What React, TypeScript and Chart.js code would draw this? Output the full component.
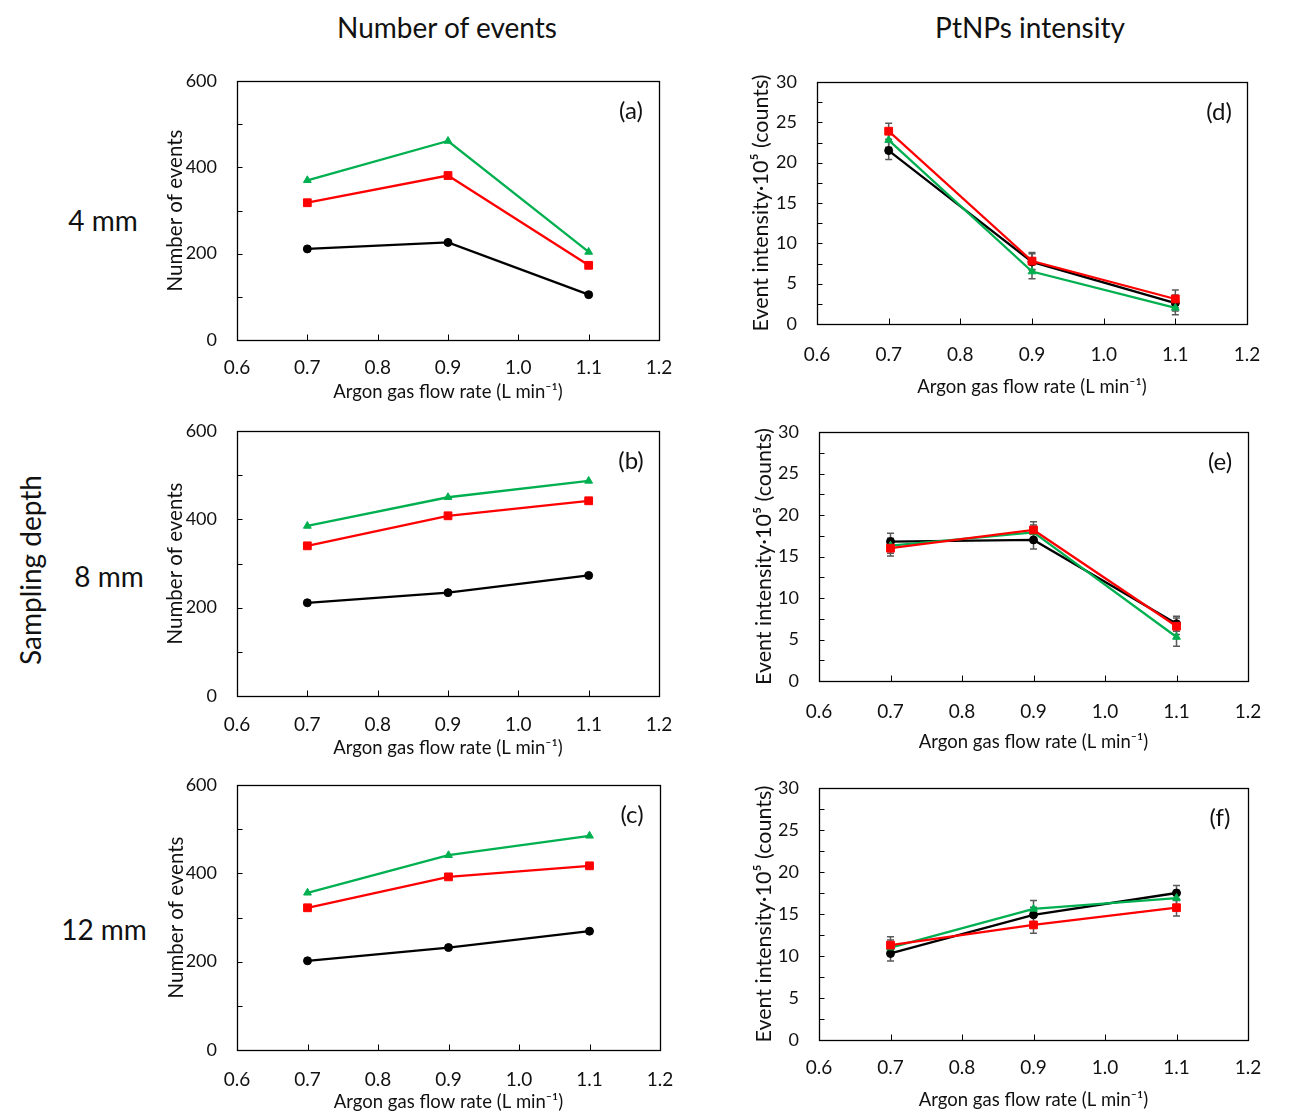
import React, { useEffect, useRef } from "react";
import { Chart, registerables } from "chart.js";

Chart.register(...registerables);

// ---------- DATA ----------
const flowRates = [0.7, 0.9, 1.1];
const xTicks = [0.6, 0.7, 0.8, 0.9, 1.0, 1.1, 1.2];

// Number of events (panels a-c)
const eventsA_black = [211, 226, 105];
const eventsA_red = [318, 381, 173];
const eventsA_green = [370, 461, 204];

const eventsB_black = [211, 234, 273];
const eventsB_red = [340, 408, 442];
const eventsB_green = [385, 450, 487];

const eventsC_black = [202, 232, 269];
const eventsC_red = [322, 392, 417];
const eventsC_green = [356, 441, 485];

// Event intensity x10^5 (panels d-f) with error bars
const intD_black = [21.5, 7.7, 2.6];
const intD_red = [23.9, 7.8, 3.1];
const intD_green = [22.8, 6.5, 2.0];
const errD_black = [1.1, 1.0, 1.0];
const errD_red = [1.0, 1.05, 1.1];
const errD_green = [0.9, 0.9, 0.85];

const intE_black = [16.8, 17.0, 6.9];
const intE_red = [16.0, 18.2, 6.6];
const intE_green = [16.3, 17.9, 5.3];
const errE_black = [1.0, 1.1, 0.9];
const errE_red = [0.95, 1.0, 1.0];
const errE_green = [0.9, 0.9, 1.1];

const intF_black = [10.3, 14.9, 17.5];
const intF_red = [11.3, 13.7, 15.75];
const intF_green = [11.0, 15.6, 16.9];
const errF_black = [0.9, 0.9, 0.9];
const errF_red = [1.0, 1.0, 1.0];
const errF_green = [0.9, 1.0, 0.9];

const columnTitles = ["Number of events", "PtNPs intensity"];
const rowLabels = ["4 mm", "8 mm", "12 mm"];
const sideLabel = "Sampling depth";
const panelLabels = ["(a)", "(b)", "(c)", "(d)", "(e)", "(f)"];
const xTitle = "Argon gas flow rate (L min\u207B\u00B9)";
const yTitleEvents = "Number of events";
const yTitleIntensity = "Event intensity\u00B710\u2075 (counts)";

// ---------- STYLE ----------
const FONT = "Lato, 'DejaVu Sans', sans-serif";
const BLACK = "#000000";
const RED = "#ff0000";
const GREEN = "#00b050";

type Series = { values: number[]; errors?: number[]; color: string; style: string; radius: number; order: number; name: string };

function makeSeries(black: number[], red: number[], green: number[], eb?: number[], er?: number[], eg?: number[]): Series[] {
  return [
    { name: "black", values: black, errors: eb, color: BLACK, style: "circle", radius: 4, order: 2 },
    { name: "red", values: red, errors: er, color: RED, style: "rect", radius: 5.5, order: 0 },
    { name: "green", values: green, errors: eg, color: GREEN, style: "triangle", radius: 4.5, order: 1 },
  ];
}

type PanelCfg = {
  label: string;
  series: Series[];
  yMax: number;
  yStep: number;
  yMinor: number;
  yTitle: string;
  yTitleSize: number;
  canvasX: number;
  canvasW: number;
  plot: { L: number; T: number; R: number; B: number };
  tickPad: number;
  titleBottomPad: number;
  yTitleTopPad: number;
};

const panels: PanelCfg[] = [
  { label: panelLabels[0], series: makeSeries(eventsA_black, eventsA_red, eventsA_green), yMax: 600, yStep: 200, yMinor: 100, yTitle: yTitleEvents, yTitleSize: 20.5,
    canvasX: 140, canvasW: 600, plot: { L: 237, T: 81, R: 659, B: 340 }, tickPad: 18, titleBottomPad: 13, yTitleTopPad: 25 },
  { label: panelLabels[1], series: makeSeries(eventsB_black, eventsB_red, eventsB_green), yMax: 600, yStep: 200, yMinor: 100, yTitle: yTitleEvents, yTitleSize: 20.5,
    canvasX: 140, canvasW: 600, plot: { L: 237, T: 431, R: 659, B: 696 }, tickPad: 19, titleBottomPad: 13, yTitleTopPad: 25 },
  { label: panelLabels[2], series: makeSeries(eventsC_black, eventsC_red, eventsC_green), yMax: 600, yStep: 200, yMinor: 100, yTitle: yTitleEvents, yTitleSize: 20.5,
    canvasX: 140, canvasW: 600, plot: { L: 237, T: 785, R: 660, B: 1050 }, tickPad: 20, titleBottomPad: 13, yTitleTopPad: 26 },
  { label: panelLabels[3], series: makeSeries(intD_black, intD_red, intD_green, errD_black, errD_red, errD_green), yMax: 30, yStep: 5, yMinor: 2.5, yTitle: yTitleIntensity, yTitleSize: 21.5,
    canvasX: 735, canvasW: 576, plot: { L: 817, T: 82, R: 1247, B: 324 }, tickPad: 21, titleBottomPad: 2, yTitleTopPad: 15 },
  { label: panelLabels[4], series: makeSeries(intE_black, intE_red, intE_green, errE_black, errE_red, errE_green), yMax: 30, yStep: 5, yMinor: 2.5, yTitle: yTitleIntensity, yTitleSize: 21.5,
    canvasX: 735, canvasW: 576, plot: { L: 819, T: 432, R: 1248, B: 681 }, tickPad: 21, titleBottomPad: 4, yTitleTopPad: 18 },
  { label: panelLabels[5], series: makeSeries(intF_black, intF_red, intF_green, errF_black, errF_red, errF_green), yMax: 30, yStep: 5, yMinor: 2.5, yTitle: yTitleIntensity, yTitleSize: 21.5,
    canvasX: 735, canvasW: 576, plot: { L: 819, T: 788, R: 1248, B: 1040 }, tickPad: 18, titleBottomPad: 5, yTitleTopPad: 18 },
];

// ---------- PLUGINS ----------
const framePlugin = {
  id: "frame",
  beforeDatasetsDraw(chart: any) {
    const { ctx, chartArea } = chart;
    const o = chart.options.plugins.frame || {};
    const xs = chart.scales.x;
    const ys = chart.scales.y;
    ctx.save();
    ctx.strokeStyle = "#000";
    ctx.lineWidth = 1.3;
    const l = Math.round(chartArea.left) + 0.5;
    const t = Math.round(chartArea.top) + 0.5;
    const r = Math.round(chartArea.right) + 0.5;
    const b = Math.round(chartArea.bottom) + 0.5;
    ctx.strokeRect(l, t, r - l, b - t);
    ctx.lineWidth = 1;
    ctx.beginPath();
    (o.xTicks || []).forEach((v: number) => {
      const px = Math.round(xs.getPixelForValue(v)) + 0.5;
      ctx.moveTo(px, b);
      ctx.lineTo(px, b - 6);
    });
    const step = o.yMinor || 1;
    for (let v = 0; v <= ys.max + 1e-9; v += step) {
      const py = Math.round(ys.getPixelForValue(v)) + 0.5;
      ctx.moveTo(l, py);
      ctx.lineTo(l + 5, py);
    }
    ctx.stroke();
    ctx.restore();
  },
  afterDraw(chart: any) {
    const { ctx, chartArea } = chart;
    const o = chart.options.plugins.frame || {};
    if (!o.label) return;
    ctx.save();
    ctx.fillStyle = "#111";
    ctx.font = `24px ${FONT}`;
    ctx.textAlign = "center";
    ctx.textBaseline = "middle";
    ctx.fillText(o.label, chartArea.right - 28, chartArea.top + 30);
    ctx.restore();
  },
};

const errorBarPlugin = {
  id: "errorBars",
  beforeDatasetsDraw(chart: any) {
    const { ctx } = chart;
    const ys = chart.scales.y;
    ctx.save();
    ctx.strokeStyle = "#5a5a5a";
    ctx.lineWidth = 1.5;
    chart.data.datasets.forEach((ds: any, di: number) => {
      if (!ds.errors) return;
      const meta = chart.getDatasetMeta(di);
      meta.data.forEach((pt: any, i: number) => {
        const v = ds.data[i].y;
        const e = ds.errors[i];
        const y1 = ys.getPixelForValue(v + e);
        const y2 = ys.getPixelForValue(v - e);
        const x = pt.x;
        ctx.beginPath();
        ctx.moveTo(x, y1);
        ctx.lineTo(x, y2);
        ctx.moveTo(x - 3.5, y1);
        ctx.lineTo(x + 3.5, y1);
        ctx.moveTo(x - 3.5, y2);
        ctx.lineTo(x + 3.5, y2);
        ctx.stroke();
      });
    });
    ctx.restore();
  },
};

// ---------- COMPONENTS ----------
const TOP_PAD = 34;

function Panel({ cfg }: { cfg: PanelCfg }) {
  const ref = useRef<HTMLCanvasElement>(null);
  const canvasY = cfg.plot.T - TOP_PAD;
  const canvasH = cfg.plot.B + 75 - canvasY;

  useEffect(() => {
    if (!ref.current) return;
    const p = cfg.plot;
    const yAxisWidth = p.L - cfg.canvasX;
    const xAxisHeight = canvasY + canvasH - p.B;
    const chart = new Chart(ref.current, {
      type: "line",
      data: {
        datasets: cfg.series.map((s) => ({
          label: s.name,
          data: flowRates.map((x, i) => ({ x, y: s.values[i] })),
          errors: s.errors,
          borderColor: s.color,
          backgroundColor: s.color,
          pointBackgroundColor: s.color,
          pointBorderColor: s.color,
          pointStyle: s.style,
          pointRadius: s.radius,
          pointBorderWidth: 1,
          borderWidth: 2.3,
          order: s.order,
          tension: 0,
        })) as any,
      },
      options: {
        responsive: false,
        animation: false,
        events: [],
        layout: { padding: { left: 0, top: p.T - canvasY, right: cfg.canvasX + cfg.canvasW - p.R, bottom: 0 } },
        plugins: {
          legend: { display: false },
          tooltip: { enabled: false },
          frame: { label: cfg.label, xTicks, yMinor: cfg.yMinor },
        } as any,
        scales: {
          x: {
            type: "linear",
            min: 0.6,
            max: 1.2,
            grid: { display: false, drawTicks: false },
            border: { display: false },
            ticks: {
              stepSize: 0.1,
              padding: cfg.tickPad,
              color: "#111",
              font: { family: FONT, size: 19, lineHeight: 1 },
              callback: (v: any) => Number(v).toFixed(1),
            },
            title: {
              display: true,
              text: xTitle,
              color: "#111",
              font: { family: FONT, size: 18.5, lineHeight: 1 },
              padding: { top: 0, bottom: cfg.titleBottomPad + 1 },
            },
            afterFit: (s: any) => { s.height = xAxisHeight; },
          },
          y: {
            type: "linear",
            min: 0,
            max: cfg.yMax,
            grid: { display: false, drawTicks: false },
            border: { display: false },
            ticks: {
              stepSize: cfg.yStep,
              padding: 20,
              color: "#111",
              font: { family: FONT, size: 18, lineHeight: 1 },
            },
            title: {
              display: true,
              text: cfg.yTitle,
              color: "#111",
              font: { family: FONT, size: cfg.yTitleSize, lineHeight: 1 },
              padding: { top: cfg.yTitleTopPad, bottom: 0 },
            },
            afterFit: (s: any) => { s.width = yAxisWidth; },
          },
        },
      } as any,
      plugins: [framePlugin, errorBarPlugin],
    });
    return () => chart.destroy();
  }, []);

  return (
    <canvas
      ref={ref}
      width={cfg.canvasW}
      height={canvasH}
      style={{ position: "absolute", left: cfg.canvasX, top: canvasY, width: cfg.canvasW, height: canvasH }}
    />
  );
}

function Label({ text, x, y, size, rotate }: { text: string; x: number; y: number; size: number; rotate?: boolean }) {
  return (
    <div
      style={{
        position: "absolute",
        left: x,
        top: y,
        transform: `translate(-50%, -50%)${rotate ? " rotate(-90deg)" : ""}`,
        fontFamily: FONT,
        fontSize: size,
        lineHeight: 1,
        whiteSpace: "nowrap",
        color: "#111",
      }}
    >
      {text}
    </div>
  );
}

export default function App() {
  return (
    <div style={{ position: "absolute", left: 0, top: 0, width: 1311, height: 1111, overflow: "hidden", background: "#fff" }}>
      <Label text={columnTitles[0]} x={447} y={27} size={28} />
      <Label text={columnTitles[1]} x={1030} y={27} size={28} />
      <Label text={rowLabels[0]} x={103} y={220} size={28} />
      <Label text={rowLabels[1]} x={109} y={576} size={28} />
      <Label text={rowLabels[2]} x={104} y={929} size={28} />
      <Label text={sideLabel} x={30} y={570} size={28} rotate />
      {panels.map((p, i) => (
        <Panel key={i} cfg={p} />
      ))}
    </div>
  );
}
